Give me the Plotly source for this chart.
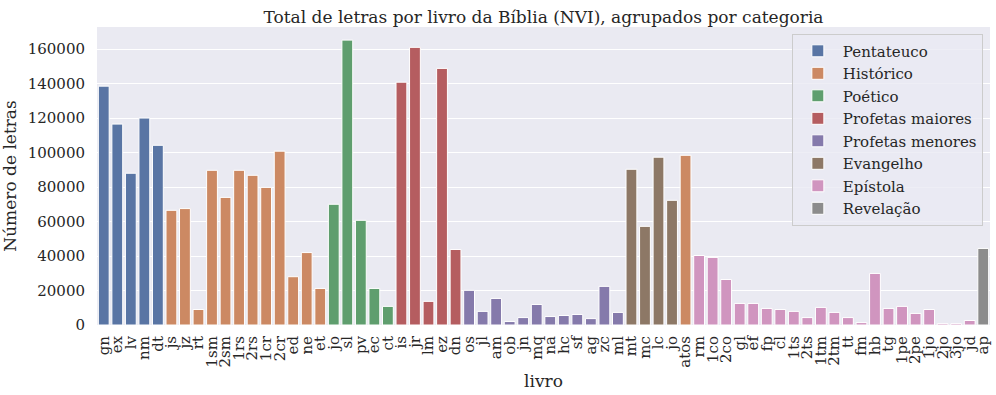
import plotly.graph_objects as go

books = ["gn","ex","lv","nm","dt","js","jz","rt","1sm","2sm","1rs","2rs","1cr","2cr","ed","ne","et",
         "jo","sl","pv","ec","ct",
         "is","jr","lm","ez","dn",
         "os","jl","am","ob","jn","mq","na","hc","sf","ag","zc","ml",
         "mt","mc","lc","jo","atos",
         "rm","1co","2co","gl","ef","fp","cl","1ts","2ts","1tm","2tm","tt","fm","hb","tg","1pe","2pe","1jo","2jo","3jo","jd",
         "ap"]
letters = [138500,116500,88000,120000,104200,66500,67500,9000,89700,74000,89700,86800,79800,100800,28000,42000,21200,
           70000,165200,60700,21200,10800,
           140800,161000,13700,148800,43800,
           20100,7900,15400,2000,4300,11900,4900,5500,6100,3700,22400,7300,
           90300,57200,97300,72300,98400,
           40300,39200,26400,12500,12500,9600,9000,7900,4300,10200,7300,4300,1400,29900,9600,10800,6700,9000,800,800,2600,
           44400]
categories = (["Pentateuco"]*5 + ["Histórico"]*12 + ["Poético"]*5 + ["Profetas maiores"]*5 +
              ["Profetas menores"]*12 + ["Evangelho"]*4 + ["Histórico"] + ["Epístola"]*21 + ["Revelação"])
cat_order = ["Pentateuco","Histórico","Poético","Profetas maiores","Profetas menores","Evangelho","Epístola","Revelação"]
cat_colors = ["#5975a4","#cc8963","#5f9e6e","#b55d60","#857aab","#8d7866","#d095bf","#8c8c8c"]

font = "DejaVu Serif"
fig = go.Figure()
for cat, col in zip(cat_order, cat_colors):
    idx = [i for i, c in enumerate(categories) if c == cat]
    fig.add_trace(go.Bar(
        x=idx, y=[letters[i] for i in idx], name=cat, width=0.8,
        marker=dict(color=col, line=dict(color="white", width=1)),
        customdata=[books[i] for i in idx],
        hovertemplate="%{customdata}: %{y}<extra>" + cat + "</extra>",
    ))

fig.update_layout(
    width=996, height=395,
    margin=dict(l=97, r=6, t=27, b=70, autoexpand=False),
    paper_bgcolor="white", plot_bgcolor="#EAEAF2",
    barmode="overlay",
    font=dict(family=font, size=15, color="#262626"),
    title=dict(text="Total de letras por livro da Bíblia (NVI), agrupados por categoria",
               x=0.5, xref="paper", xanchor="center", y=0.958, yref="container", yanchor="middle",
               font=dict(family=font, size=17, color="#262626")),
    legend=dict(x=0.992, y=0.978, xanchor="right", yanchor="top",
                bgcolor="rgba(234,234,242,0.8)", bordercolor="#CCCCCC", borderwidth=1,
                font=dict(family=font, size=15, color="#262626"), tracegroupgap=0, itemwidth=40),
    showlegend=True,
)
fig.update_xaxes(
    tickmode="array", tickvals=list(range(len(books))), ticktext=books,
    tickangle=-90, range=[-0.5, len(books) - 0.5],
    showgrid=False, zeroline=False, showline=False,
    ticks="outside", ticklen=4, tickcolor="rgba(0,0,0,0)",
    title=dict(text="livro", font=dict(family=font, size=17), standoff=8),
    tickfont=dict(family=font, size=15),
)
fig.update_yaxes(
    range=[0, 172800], tickmode="linear", tick0=0, dtick=20000, tickformat="d",
    showgrid=True, gridcolor="white", gridwidth=1, zeroline=False, showline=False,
    ticks="outside", ticklen=8, tickcolor="rgba(0,0,0,0)",
    title=dict(text="Número de letras", font=dict(family=font, size=17), standoff=8),
    tickfont=dict(family=font, size=15),
)
fig.write_html("out.html", config={"displayModeBar": False},
               post_script="document.body.style.margin='0';document.body.style.padding='0';")
